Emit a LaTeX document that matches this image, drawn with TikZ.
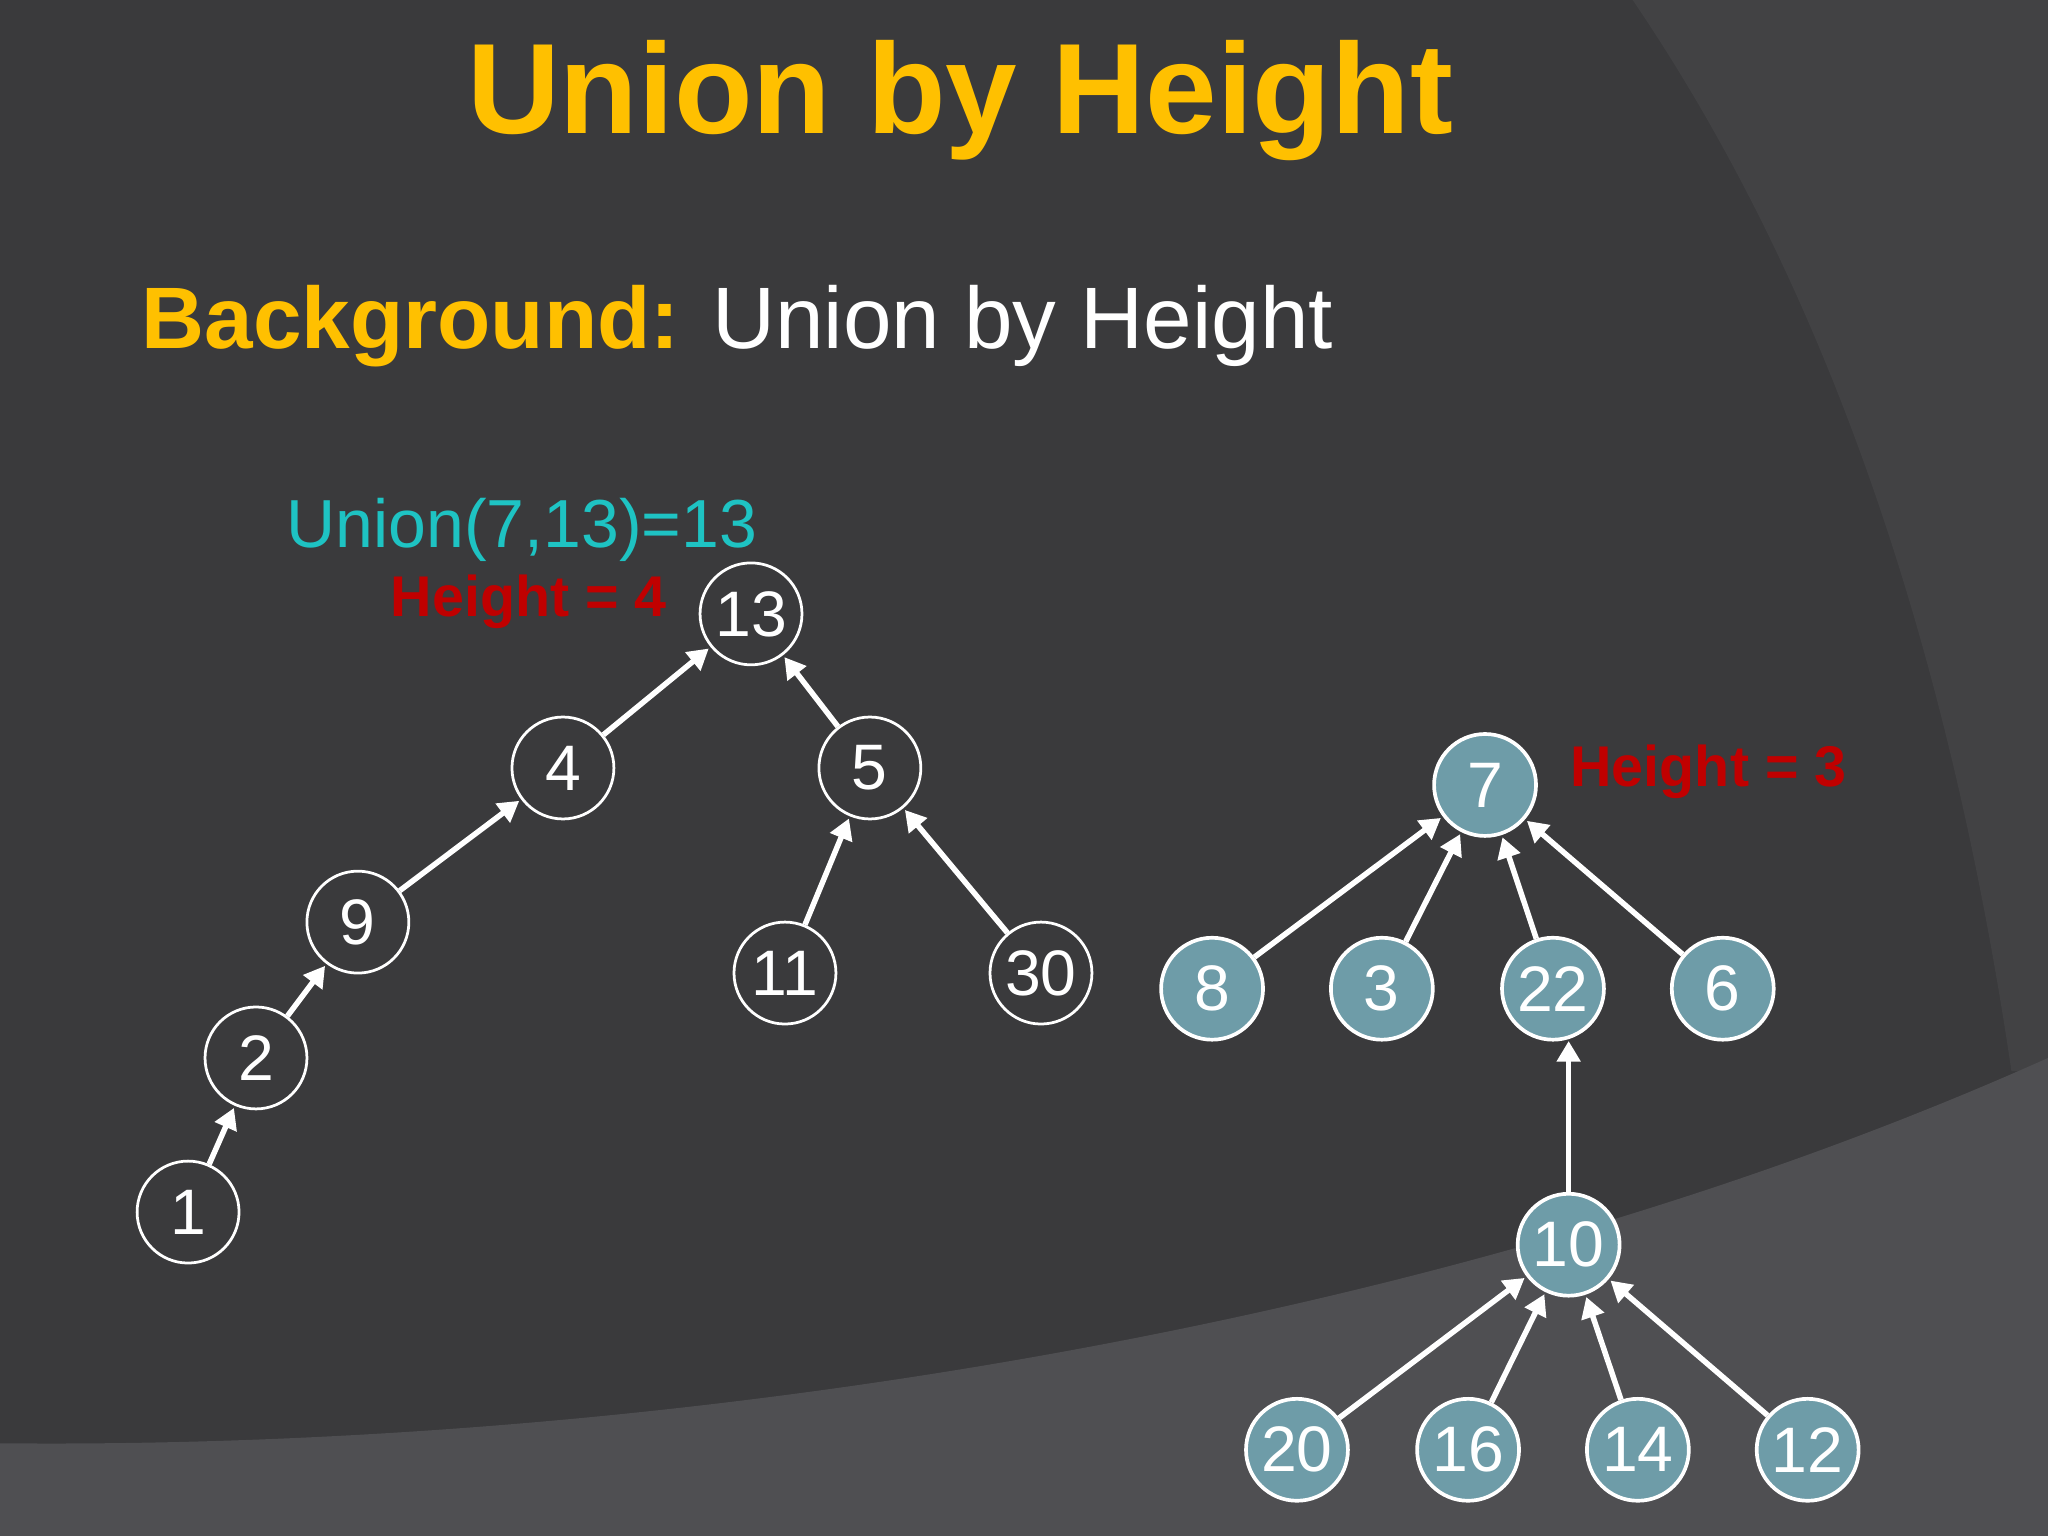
\documentclass[tikz,border=0pt]{standalone}
\usepackage{fontspec}
\setmainfont{Liberation Sans}
\usetikzlibrary{arrows.meta}
\definecolor{bgA}{HTML}{3A3A3C}
\definecolor{bgB}{HTML}{424244}
\definecolor{bgC}{HTML}{4F4F52}
\definecolor{gold}{HTML}{FFC000}
\definecolor{teal}{HTML}{6E9CA8}
\definecolor{cyn}{HTML}{1EC3C3}
\definecolor{redd}{HTML}{C00000}
\tikzset{
 wn/.style={circle,draw=white,line width=0.6pt,minimum size=0.78cm,inner sep=0pt,text=white,font=\fontsize{14}{14}\selectfont},
 tn/.style={wn,fill=teal,line width=0.8pt},
 ar/.style={draw=white,line width=1.2pt,-{Triangle[length=4.5pt,width=5pt]},shorten >=0.5pt,shorten <=0pt}
}
\begin{document}
\begin{tikzpicture}[x=0.01cm,y=-0.01cm]
\useasboundingbox (0,0) rectangle (1568,1176);
\fill[bgA] (0,0) rectangle (1568,1176);
\fill[bgB] (1250,0) .. controls (1420,250) and (1500,550) .. (1540,820) -- (1568,820) -- (1568,0) -- cycle;
\fill[bgC] (0,1105) .. controls (500,1110) and (1100,1020) .. (1568,810) -- (1568,1176) -- (0,1176) -- cycle;

\node[text=gold,font=\bfseries\fontsize{28}{28}\selectfont] (title) at (735,77) {Union by Height};
\node[anchor=west,font=\fontsize{19}{19}\selectfont,text=white] (bg) at (96,250) {\textcolor{gold}{\bfseries Background:} Union by Height};
\node[anchor=west,text=cyn,font=\fontsize{14.8}{14.8}\selectfont] (un) at (207,406) {Union(7,13)=13};
\node[anchor=east,text=redd,font=\bfseries\fontsize{12.5}{12.5}\selectfont] (h4) at (523,461) {Height = 4};
\node[anchor=west,text=redd,font=\bfseries\fontsize{12.5}{12.5}\selectfont] (h3) at (1190,591) {Height = 3};

\node[wn] (n13) at (575,470) {13};
\node[wn] (n4) at (431,588) {4};
\node[wn] (n5) at (666,588) {5};
\node[wn] (n9) at (274,706) {9};
\node[wn] (n2) at (196,810) {2};
\node[wn] (n1) at (144,928) {1};
\node[wn] (n11) at (601,745) {11};
\node[wn] (n30) at (797,745) {30};
\draw[ar] (n4) -- (n13);
\draw[ar] (n5) -- (n13);
\draw[ar] (n9) -- (n4);
\draw[ar] (n2) -- (n9);
\draw[ar] (n1) -- (n2);
\draw[ar] (n11) -- (n5);
\draw[ar] (n30) -- (n5);

\node[tn] (n7) at (1137,601) {7};
\node[tn] (n8) at (928,757) {8};
\node[tn] (n3) at (1058,757) {3};
\node[tn] (n22) at (1189,757) {22};
\node[tn] (n6) at (1319,757) {6};
\node[tn] (n10) at (1201,953) {10};
\node[tn] (n20) at (993,1110) {20};
\node[tn] (n16) at (1124,1110) {16};
\node[tn] (n14) at (1254,1110) {14};
\node[tn] (n12) at (1384,1110) {12};
\draw[ar] (n8) -- (n7);
\draw[ar] (n3) -- (n7);
\draw[ar] (n22) -- (n7);
\draw[ar] (n6) -- (n7);
\coordinate (t22) at (1201,797);
\draw[ar,shorten >=0pt] (n10.north) -- (t22);
\draw[ar] (n20) -- (n10);
\draw[ar] (n16) -- (n10);
\draw[ar] (n14) -- (n10);
\draw[ar] (n12) -- (n10);
\end{tikzpicture}
\end{document}
